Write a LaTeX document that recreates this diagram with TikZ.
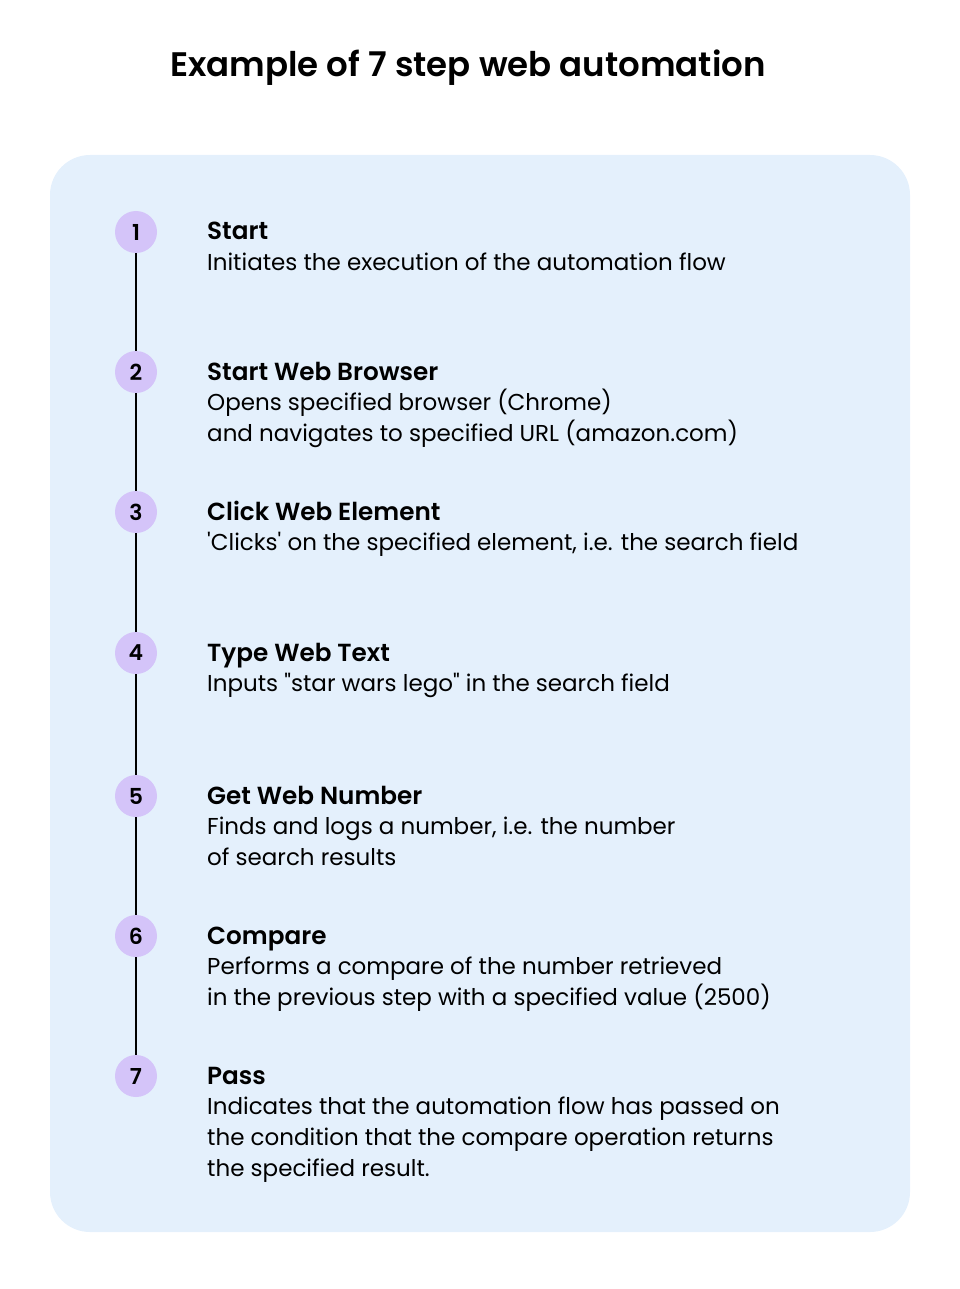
\documentclass[tikz,border=0pt]{standalone}
\usepackage{fontspec}
\setmainfont{Poppins}[Ligatures=TeXOff, BoldFont={Poppins SemiBold}]
\usetikzlibrary{positioning}
\definecolor{panelblue}{HTML}{E4F0FC}
\definecolor{steplilac}{HTML}{D4C4F9}
\tikzset{
  stepdot/.style={circle, fill=steplilac, minimum size=42pt, inner sep=0pt, font=\fontsize{22}{22}\selectfont\bfseries},
  stephead/.style={anchor=base west, inner sep=0pt, font=\fontsize{24.7}{24}\selectfont\bfseries},
  stepdesc/.style={anchor=north west, inner sep=0pt, align=left, font=\fontsize{23}{31}\selectfont},
  stepline/.style={line width=1.5pt, black}
}
% #1 name, #2 y of circle, #3 number, #4 heading, #5 description
\newcommand{\stepitem}[5]{ \node[stepdot] (c#1) at (136, #2) {#3}; \node[stephead] (h#1) at (207, #2 + 8) {#4}; \node[stepdesc] (d#1) at (207, #2 + 17) {\strut#5};}

\begin{document}
\begin{tikzpicture}[x=1pt, y=-1pt]
\useasboundingbox (0, 0) rectangle (960, 1289);
\node[font=\fontsize{34}{34}\selectfont\bfseries] (title) at (468, 68) {Example of 7 step web automation};
\fill[panelblue, rounded corners=40pt] (50, 155) rectangle (910, 1232);
% steps
\stepitem{1}{232}{1}{Start}{Initiates the execution of the automation flow}
\stepitem{2}{372}{2}{Start Web Browser}{Opens specified browser (Chrome)\\and navigates to specified URL (amazon.com)}
\stepitem{3}{512}{3}{Click Web Element}{'Clicks' on the specified element, i.e. the search field}
\stepitem{4}{653}{4}{Type Web Text}{Inputs "star wars lego" in the search field}
\stepitem{5}{796}{5}{Get Web Number}{Finds and logs a number, i.e. the number\\of search results}
\stepitem{6}{936}{6}{Compare}{Performs a compare of the number retrieved\\in the previous step with a specified value (2500)}
\stepitem{7}{1076}{7}{Pass}{Indicates that the automation flow has passed on\\the condition that the compare operation returns\\the specified result.}
% timeline
\foreach \a/\b in {1/2, 2/3, 3/4, 4/5, 5/6, 6/7}
  \draw[stepline] (c\a) -- (c\b);
\end{tikzpicture}
\end{document}
